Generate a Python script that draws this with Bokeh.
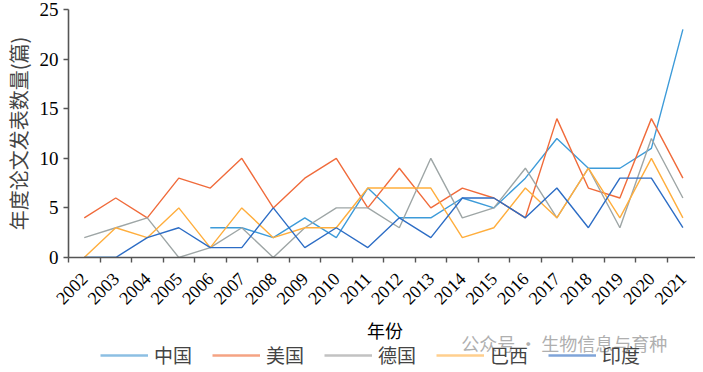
import math
import numpy as np
from bokeh.plotting import figure
from bokeh.layouts import column
from bokeh.models import FixedTicker, Legend, LegendItem, Label, Range1d
from bokeh.embed import file_html
from bokeh.resources import INLINE

nan = float("nan")
years = [str(y) for y in range(2002, 2022)]
china = [0, 0, nan, nan, 3, 3, 2, 4, 2, 7, 4, 4, 6, 5, 8, 12, 9, 9, 11, 23]
usa = [4, 6, 4, 8, 7, 10, 5, 8, 10, 5, 9, 5, 7, 6, 4, 14, 7, 6, 14, 8]
germany = [2, 3, 4, 0, 1, 3, 0, 3, 5, 5, 3, 10, 4, 5, 9, 4, 9, 3, 12, 6]
brazil = [0, 3, 2, 5, 1, 5, 2, 3, 3, 7, 7, 7, 2, 3, 7, 4, 9, 4, 10, 4]
india = [0, 0, 2, 3, 1, 1, 5, 1, 3, 1, 4, 2, 6, 6, 4, 7, 3, 8, 8, 3]
series_names = ["中国", "美国", "德国", "巴西", "印度"]
y_ticks = [0, 5, 10, 15, 20, 25]

series = [china, usa, germany, brazil, india]
colors = ["#3D9BD9", "#F06B3B", "#9EA6A6", "#FFAE3D", "#2D6DC5"]
legend_colors = ["#8CBFE3", "#F5A383", "#C2C2C2", "#FFCF8E", "#7FA4D9"]

xs = [i + 0.5 for i in range(len(years))]

W = 695
LEFT = 58
FRAME_W = W - LEFT
H_MAIN = 313
H_LEG = 55

p = figure(width=W, height=H_MAIN, x_range=Range1d(0, 19.9), y_range=Range1d(0, 25),
           output_backend="svg", toolbar_location=None,
           min_border_left=LEFT, min_border_right=0, min_border_top=9, min_border_bottom=54)
p.xgrid.visible = False
p.ygrid.visible = False
p.outline_line_color = None

for vals, c in zip(series, colors):
    p.line(x=xs, y=vals, line_color=c, line_width=1.4)

axis_color = "#555555"
xa = p.xaxis[0]
xa.ticker = FixedTicker(ticks=xs, minor_ticks=list(range(0, len(years) + 1)))
xa.major_label_overrides = {x: y for x, y in zip(xs, years)}
xa.major_tick_out = 0
xa.major_tick_in = 0
xa.minor_tick_out = 5
xa.minor_tick_in = 0
xa.major_label_standoff = 13
xa.major_label_orientation = math.pi / 4
xa.major_label_text_font = "Liberation Serif"
xa.major_label_text_font_size = "18px"
xa.major_label_text_color = "black"
xa.axis_line_color = axis_color
xa.axis_line_width = 1.6
xa.minor_tick_line_color = axis_color
xa.minor_tick_line_width = 1.4

ya = p.yaxis[0]
ya.ticker = FixedTicker(ticks=y_ticks, minor_ticks=[])
ya.major_tick_out = 5
ya.major_tick_in = 0
ya.minor_tick_out = 0
ya.major_label_text_font = "Liberation Serif"
ya.major_label_text_font_size = "19px"
ya.major_label_text_color = "black"
ya.axis_label = "年度论文发表数量(篇)"
ya.axis_label_text_font = "Noto Sans CJK SC"
ya.axis_label_text_font_size = "20px"
ya.axis_label_text_font_style = "normal"
ya.axis_label_standoff = 4
ya.axis_line_color = axis_color
ya.axis_line_width = 1.6
ya.major_tick_line_color = axis_color
ya.major_tick_line_width = 1.4

# lower strip: x-axis title, legend and watermark text (separate figure so nothing is clipped)
p2 = figure(width=W, height=H_LEG, x_range=Range1d(0, FRAME_W), y_range=Range1d(0, H_LEG),
            output_backend="svg", toolbar_location=None,
            x_axis_type=None, y_axis_type=None,
            min_border_left=LEFT, min_border_right=0, min_border_top=0, min_border_bottom=0)
p2.xgrid.visible = False
p2.ygrid.visible = False
p2.outline_line_color = None

items = []
for name, vals, c in zip(series_names, series, legend_colors):
    r = p2.line(x=xs, y=vals, line_color=c, line_width=2.4, visible=False)
    items.append(LegendItem(label=name, renderers=[r]))

legend = Legend(items=items, orientation="horizontal", location=(32, 0),
                glyph_width=48, glyph_height=20, label_standoff=6, spacing=20,
                padding=0, margin=0, border_line_color=None, background_fill_alpha=0,
                inactive_fill_alpha=0,
                label_text_font="Noto Sans CJK SC", label_text_font_size="19px")
p2.add_layout(legend)

xlabel = Label(x=FRAME_W / 2 + 3, y=39, text="年份", text_color="black",
               text_font="Noto Sans CJK SC", text_font_size="18px",
               text_align="center", text_baseline="middle")
p2.add_layout(xlabel)

wm = Label(x=399, y=26, text="公众号 · 生物信息与育种", text_color="#afafaf",
           text_font="Noto Sans CJK SC", text_font_size="18px", text_baseline="middle")
p2.add_layout(wm)

layout = column(p, p2, spacing=0)
open("out.html", "w").write(file_html(layout, INLINE))
